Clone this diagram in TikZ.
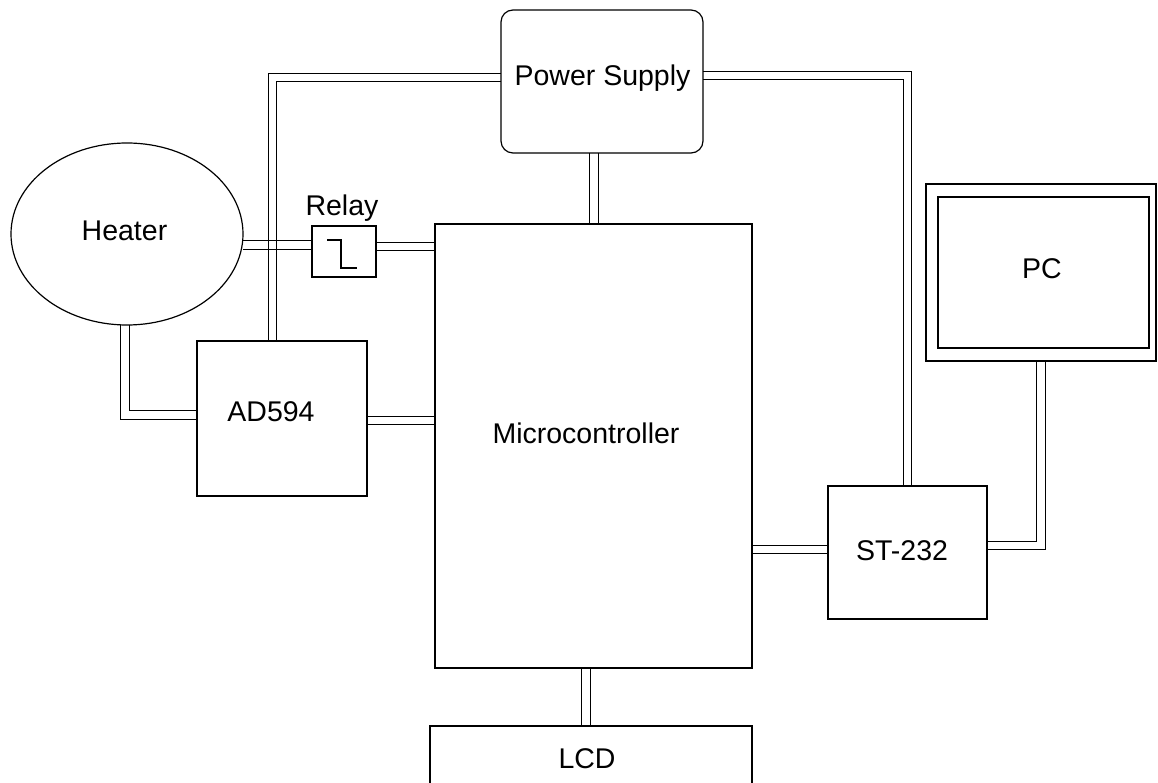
\documentclass[tikz,border=0pt]{standalone}
\usepackage{fontspec}
\setmainfont{Liberation Sans}
\usetikzlibrary{shapes.geometric,calc}
\pgfdeclarelayer{bg}
\pgfsetlayers{bg,main}
\begin{document}
\begin{tikzpicture}[x=1pt,y=-1pt,
  box/.style={draw,line width=1.2pt,outer sep=0pt,inner sep=0pt},
  bus/.style={line width=1.2pt,double,double distance=7.3pt},
  lbl/.style={anchor=base,inner sep=0pt,font=\fontsize{28.5}{30}\selectfont}]
\useasboundingbox (0,0) rectangle (1158,783);
% blocks
\node[box,rounded corners=12pt,minimum width=202pt,minimum height=143pt] (ps) at (602,81.5) {};
\node[box,ellipse,minimum width=232pt,minimum height=182pt] (heater) at (127,234) {};
\node[box,minimum width=64pt,minimum height=51pt] (relay) at (344,251.5) {};
\node[box,minimum width=317pt,minimum height=444pt] (mcu) at (593.5,446) {};
\node[box,minimum width=170pt,minimum height=155pt] (ad) at (282,418.5) {};
\node[box,minimum width=159pt,minimum height=133pt] (st) at (907.5,552.5) {};
\node[box,minimum width=230pt,minimum height=177pt] (pc) at (1041,272.5) {};
\node[box,minimum width=211pt,minimum height=151pt] (pcin) at (1043.5,272.5) {};
\node[box,minimum width=322pt,minimum height=100pt] (lcd) at (591,776) {};
% labels
\node[lbl] (pst) at (602.5,86) {Power Supply};
\node[lbl] (ht) at (124.5,241) {Heater};
\node[lbl] (rt) at (342,216) {Relay};
\node[lbl] (at) at (271,421) {AD594};
\node[lbl] (mt) at (586,443) {Microcontroller};
\node[lbl] (stt) at (902,560) {ST-232};
\node[lbl] (pct) at (1042,279) {PC};
\node[lbl] (lt) at (587,768) {LCD};
% relay symbol
\draw[line width=1.2pt] ($(relay.center)+(-17,-11.5)$) -- ($(relay.center)+(-3,-11.5)$)
  -- ($(relay.center)+(-3,16.5)$) -- ($(relay.center)+(13,16.5)$);
% connectors
\begin{pgfonlayer}{bg}
\fill[white] (0,0) rectangle (1158,783);
\coordinate (h1) at ([yshift=-11pt]heater.east);
\draw[bus] (h1) -- (h1 -| relay.west);
\coordinate (r1) at ([yshift=5pt]relay.east);
\draw[bus] (r1) -- (r1 -| mcu.west);
\coordinate (p1) at ([xshift=-8pt]ps.south);
\draw[bus] (p1) -- (p1 |- mcu.north);
\coordinate (a1) at ([yshift=3.5pt]ad.west);
\draw[bus] ([xshift=-2pt]heater.south) |- (a1);
\coordinate (a2) at ([yshift=-2pt]ad.east);
\draw[bus] (a2) -- (a2 -| mcu.west);
\coordinate (av) at ([xshift=-9.5pt]ad.north);
\draw[bus] ([yshift=4pt]ps.west) -| (av);
\draw[bus] ([yshift=6pt]ps.east) -| (st.north);
\coordinate (s1) at ([yshift=3pt]st.west);
\draw[bus] (s1 -| mcu.east) -- (s1);
\draw[bus] (pc.south) |- ([yshift=7pt]st.east);
\coordinate (l1) at ([xshift=-5pt]lcd.north);
\draw[bus] (l1 |- mcu.south) -- (l1);
% crossing of the two buses
\coordinate (x1) at (av |- h1);
\draw[line width=1.2pt] ($(x1)+(-4.4,-4.25)$) -- ($(x1)+(4.4,-4.25)$)
  ($(x1)+(-4.4,4.25)$) -- ($(x1)+(4.4,4.25)$);
\end{pgfonlayer}
\end{tikzpicture}
\end{document}
